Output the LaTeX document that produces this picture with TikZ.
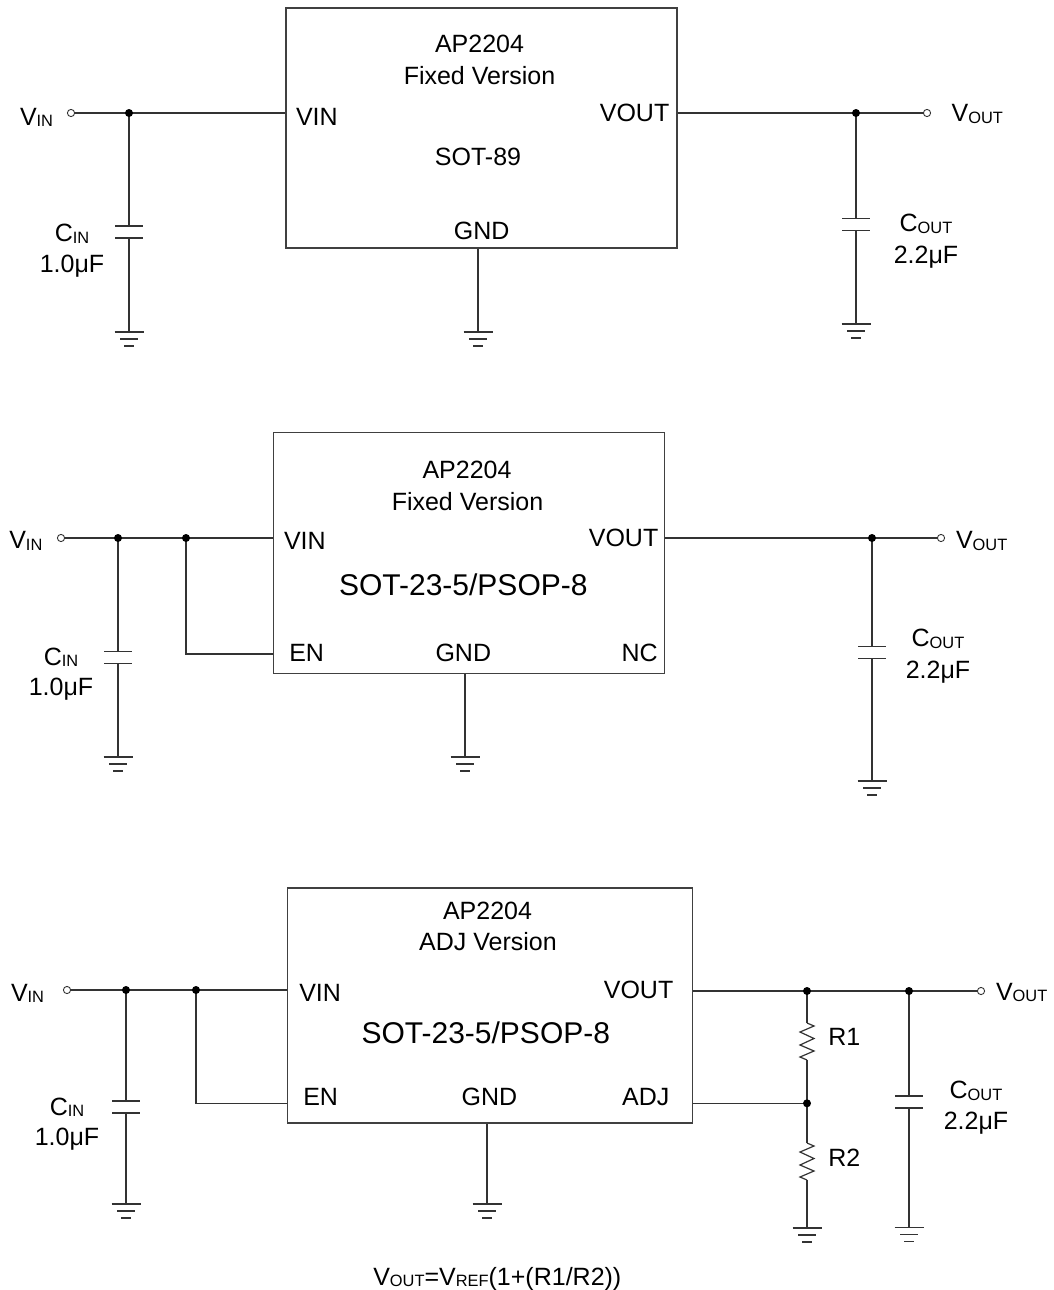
\documentclass[tikz,border=0pt]{standalone}
\usepackage{fontspec}
\setmainfont{Liberation Sans}
\newcommand{\lblfont}{\fontsize{12.5}{15}\selectfont}
\newcommand{\pkgfont}{\fontsize{15}{18}\selectfont}
\newcommand{\mysub}[1]{\raisebox{-0.9pt}{\fontsize{8.2}{9}\selectfont #1}}
\tikzset{
  wire/.style={draw=black!80, line width=0.6pt},
  txt/.style={inner sep=0pt, outer sep=0pt, font=\lblfont, text=black},
  pkg/.style={inner sep=0pt, outer sep=0pt, font=\pkgfont, text=black},
  jdot/.style={circle, fill=black, inner sep=0pt, minimum size=4pt},
  term/.style={circle, draw=black!80, line width=0.45pt, fill=white, inner sep=0pt, minimum size=3.6pt},
  icbox/.style={draw=black!75, line width=0.7pt, inner sep=0pt},
  capv/.pic={
    \draw[wire] (-14,-6) -- (14,-6) (-14,6) -- (14,6);
    \coordinate (-t) at (0,-6); \coordinate (-b) at (0,6);
  },
  gnd/.pic={
    \draw[wire] (-14.5,0) -- (14.5,0) (-9,7) -- (9,7) (-5,14) -- (5,14);
    \coordinate (-t) at (0,0);
  },
  res/.pic={
    \draw[wire, line join=miter] (0,0) -- (7,3) -- (-7,9) -- (7,15.5) -- (-7,22) -- (7,28) -- (-7,34) -- (0,37);
    \coordinate (-t) at (0,0); \coordinate (-b) at (0,37);
  }
}
\begin{document}
\begin{tikzpicture}[x=0.5pt,y=-0.5pt]
\useasboundingbox (0,0) rectangle (1054,1290);

%% ---------------- circuit 1 ----------------
\node[icbox, minimum width=195.5pt, minimum height=120pt] (ic1) at (481.5,128) {};
\node[term] (t1i) at (71,113) {};
\coordinate (j1a) at (129,113);
\pic (c1) at (129,232) {capv};
\pic (g1a) at (129,332) {gnd};
\pic (g1b) at (478,332) {gnd};
\coordinate (j1b) at (856,113);
\node[term] (t1o) at (927,113) {};
\pic (c2) at (856,224.5) {capv};
\pic (g1c) at (856,324) {gnd};
\draw[wire] (t1i) -- (j1a) -- (j1a -| ic1.west);
\draw[wire] (j1a) -- (c1-t) (c1-b) -- (g1a-t);
\draw[wire] (ic1.south -| g1b-t) -- (g1b-t);
\draw[wire] (j1b -| ic1.east) -- (j1b) -- (t1o);
\draw[wire] (j1b) -- (c2-t) (c2-b) -- (g1c-t);
\node[jdot] (d1a) at (j1a) {};
\node[jdot] (d1b) at (j1b) {};

\node[txt, anchor=base west] (l1vin) at (20,125) {V\mysub{IN}};
\node[txt, anchor=base] (l1cin) at (72,241.7) {C\mysub{IN}};
\node[txt, anchor=base] (l1cinv) at (72,272.7) {1.0μF};
\node[txt, anchor=base west] (l1vout) at (951.7,121.7) {V\mysub{OUT}};
\node[txt, anchor=base] (l1cout) at (926,231.7) {C\mysub{OUT}};
\node[txt, anchor=base] (l1coutv) at (926,263.3) {2.2μF};
\node[txt, anchor=base] (l1ap) at (479.5,52.7) {AP2204};
\node[txt, anchor=base] (l1ver) at (479.5,84) {Fixed Version};
\node[txt, anchor=base west] (l1pvin) at (296,125) {VIN};
\node[txt, anchor=base east] (l1pvout) at (669.3,121.7) {VOUT};
\node[txt, anchor=base] (l1pkg) at (478,165.7) {SOT-89};
\node[txt, anchor=base] (l1gnd) at (481.7,239.3) {GND};

%% ---------------- circuit 2 ----------------
\node[icbox, minimum width=195.5pt, minimum height=120.3pt] (ic2) at (468.8,553) {};
\node[term] (t2i) at (61,538) {};
\coordinate (j2a) at (118,538);
\coordinate (j2b) at (186,538);
\coordinate (e2) at (186,654);
\pic (c3) at (118,657.5) {capv};
\pic (g2a) at (118,757) {gnd};
\pic (g2b) at (465,757) {gnd};
\coordinate (j2c) at (872,538);
\node[term] (t2o) at (941,538) {};
\pic (c4) at (872,652.5) {capv};
\pic (g2c) at (872,781) {gnd};
\draw[wire] (t2i) -- (j2a) -- (j2b) -- (j2b -| ic2.west);
\draw[wire] (j2b) -- (e2) -- (e2 -| ic2.west);
\draw[wire] (j2a) -- (c3-t) (c3-b) -- (g2a-t);
\draw[wire] (ic2.south -| g2b-t) -- (g2b-t);
\draw[wire] (j2c -| ic2.east) -- (j2c) -- (t2o);
\draw[wire] (j2c) -- (c4-t) (c4-b) -- (g2c-t);
\node[jdot] (d2a) at (j2a) {};
\node[jdot] (d2b) at (j2b) {};
\node[jdot] (d2c) at (j2c) {};

\node[txt, anchor=base west] (l2vin) at (9.3,548.3) {V\mysub{IN}};
\node[txt, anchor=base] (l2cin) at (61,665) {C\mysub{IN}};
\node[txt, anchor=base] (l2cinv) at (61,695) {1.0μF};
\node[txt, anchor=base west] (l2vout) at (956,548.3) {V\mysub{OUT}};
\node[txt, anchor=base] (l2cout) at (938,646.7) {C\mysub{OUT}};
\node[txt, anchor=base] (l2coutv) at (938,678.3) {2.2μF};
\node[txt, anchor=base] (l2ap) at (467,478.3) {AP2204};
\node[txt, anchor=base] (l2ver) at (467.5,510) {Fixed Version};
\node[txt, anchor=base west] (l2pvin) at (284,549.3) {VIN};
\node[txt, anchor=base east] (l2pvout) at (658.3,546.7) {VOUT};
\node[pkg, anchor=base] (l2pkg) at (463.3,595.7) {SOT-23-5/PSOP-8};
\node[txt, anchor=base west] (l2pen) at (289.3,661.7) {EN};
\node[txt, anchor=base] (l2gnd) at (463.3,661.7) {GND};
\node[txt, anchor=base east] (l2nc) at (657.7,661.7) {NC};

%% ---------------- circuit 3 ----------------
\node[icbox, minimum width=202.5pt, minimum height=117.5pt] (ic3) at (490.2,1005.5) {};
\node[term] (t3i) at (67,990) {};
\coordinate (j3a) at (126,990);
\coordinate (j3b) at (196,990);
\coordinate (e3) at (196,1103.3);
\pic (c5) at (126,1107) {capv};
\pic (g3a) at (126,1204) {gnd};
\pic (g3b) at (487,1204) {gnd};
\coordinate (j3c) at (807,991);
\coordinate (j3d) at (909,991);
\coordinate (j3e) at (807,1103.3);
\node[term] (t3o) at (981,991) {};
\pic (r1) at (807,1023) {res};
\pic (r2) at (807,1143) {res};
\pic (g3r) at (807,1228) {gnd};
\pic (c6) at (909,1102) {capv};
\pic (g3c) at (909,1227.5) {gnd};
\draw[wire] (t3i) -- (j3a) -- (j3b) -- (j3b -| ic3.west);
\draw[wire] (j3b) -- (e3) -- (e3 -| ic3.west);
\draw[wire] (j3a) -- (c5-t) (c5-b) -- (g3a-t);
\draw[wire] (ic3.south -| g3b-t) -- (g3b-t);
\draw[wire] (j3c -| ic3.east) -- (j3c) -- (j3d) -- (t3o);
\draw[wire] (j3e -| ic3.east) -- (j3e);
\draw[wire] (j3c) -- (r1-t) (r1-b) -- (j3e) -- (r2-t) (r2-b) -- (g3r-t);
\draw[wire] (j3d) -- (c6-t) (c6-b) -- (g3c-t);
\node[jdot] (d3a) at (j3a) {};
\node[jdot] (d3b) at (j3b) {};
\node[jdot] (d3c) at (j3c) {};
\node[jdot] (d3d) at (j3d) {};
\node[jdot] (d3e) at (j3e) {};

\node[txt, anchor=base west] (l3vin) at (11,1001) {V\mysub{IN}};
\node[txt, anchor=base] (l3cin) at (67,1115) {C\mysub{IN}};
\node[txt, anchor=base] (l3cinv) at (67,1145) {1.0μF};
\node[txt, anchor=base west] (l3vout) at (996,1000) {V\mysub{OUT}};
\node[txt, anchor=base] (l3cout) at (976,1098.3) {C\mysub{OUT}};
\node[txt, anchor=base] (l3coutv) at (976,1129) {2.2μF};
\node[txt, anchor=base west] (l3r1) at (828.3,1045) {R1};
\node[txt, anchor=base west] (l3r2) at (828.3,1166) {R2};
\node[txt, anchor=base] (l3ap) at (487.5,919.3) {AP2204};
\node[txt, anchor=base] (l3ver) at (488,950.7) {ADJ Version};
\node[txt, anchor=base west] (l3pvin) at (299.3,1001.7) {VIN};
\node[txt, anchor=base east] (l3pvout) at (673.3,998.3) {VOUT};
\node[pkg, anchor=base] (l3pkg) at (485.8,1043.3) {SOT-23-5/PSOP-8};
\node[txt, anchor=base west] (l3pen) at (303.3,1105) {EN};
\node[txt, anchor=base] (l3gnd) at (489.5,1105) {GND};
\node[txt, anchor=base east] (l3adj) at (669.3,1105) {ADJ};

\node[txt, anchor=base west] (formula) at (373.3,1285) {V\mysub{OUT}=V\mysub{REF}(1+(R1/R2))};
\end{tikzpicture}
\end{document}
